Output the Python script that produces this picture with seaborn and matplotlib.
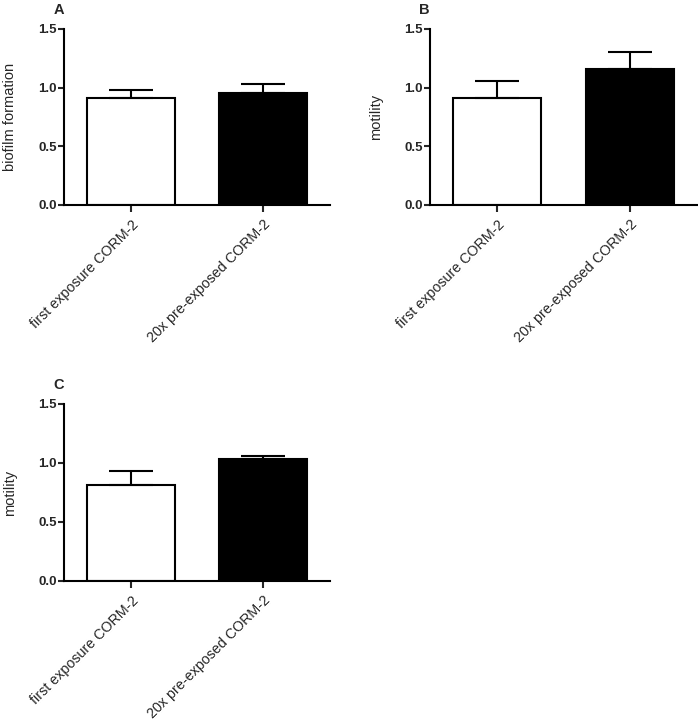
import matplotlib
matplotlib.use("Agg")
import matplotlib.pyplot as plt
from matplotlib.transforms import ScaledTranslation
import seaborn as sns
import pandas as pd
import numpy as np

sns.set_style("ticks")
plt.rcParams['font.family'] = ['Liberation Sans', 'DejaVu Sans']

categories = ["first exposure CORM-2", "20x pre-exposed CORM-2"]
bar_colors = ["white", "black"]

a_values = [0.916, 0.955]
a_err = [0.065, 0.072]
b_values = [0.908, 1.160]
b_err = [0.148, 0.140]
c_values = [0.816, 1.034]
c_err = [0.116, 0.024]

panels = [
    ("A", "biofilm formation", a_values, a_err, [0.0917, 0.7157, 0.3813, 0.2441]),
    ("B", "motility", b_values, b_err, [0.6160, 0.7157, 0.3826, 0.2441]),
    ("C", "motility", c_values, c_err, [0.0917, 0.1942, 0.3813, 0.2455]),
]

yticks = [0.0, 0.5, 1.0, 1.5]

fig = plt.figure(figsize=(6.98, 7.21), dpi=100)
for letter, ylabel, vals, errs, rect in panels:
    ax = fig.add_axes(rect)
    df = pd.DataFrame({"group": categories, "value": vals})
    sns.barplot(data=df, x="group", y="value", hue="group", palette=bar_colors,
                order=categories, hue_order=categories, legend=False,
                errorbar=None, width=0.667, edgecolor="black", linewidth=1.5,
                ax=ax)
    xs = np.arange(len(categories))
    ax.errorbar(xs, vals, yerr=[np.zeros(len(errs)), errs], fmt="none",
                ecolor="black", elinewidth=1.5, capsize=16, capthick=1.5,
                zorder=1)
    ax.set_xlim(-0.508, 1.508)
    ax.set_ylim(0, 1.5)
    ax.set_yticks(yticks)
    ax.set_yticklabels([f"{t:.1f}" for t in yticks], fontsize=9.5, fontweight="bold")
    ax.set_xticks(xs)
    ax.set_xticklabels(categories, rotation=45, ha="right", rotation_mode="anchor",
                       fontsize=10.3)
    shift = ScaledTranslation(-4 / 72, 0, fig.dpi_scale_trans)
    for lab in ax.get_xticklabels():
        lab.set_transform(lab.get_transform() + shift)
    ax.set_xlabel("")
    ax.set_ylabel(ylabel, fontsize=10.5)
    ax.yaxis.set_label_coords(-0.175, 0.5)
    for s in ["top", "right"]:
        ax.spines[s].set_visible(False)
    for s in ["left", "bottom"]:
        ax.spines[s].set_linewidth(1.5)
        ax.spines[s].set_color("black")
    ax.tick_params(axis="y", length=4, width=1.5, pad=1)
    ax.tick_params(axis="x", length=5, width=1.5, pad=4)
    ax.text(0.0, 1.07, letter, transform=ax.transAxes, fontsize=10.5,
            fontweight="bold", ha="right", va="bottom")

fig.savefig("out.png", dpi=100)
